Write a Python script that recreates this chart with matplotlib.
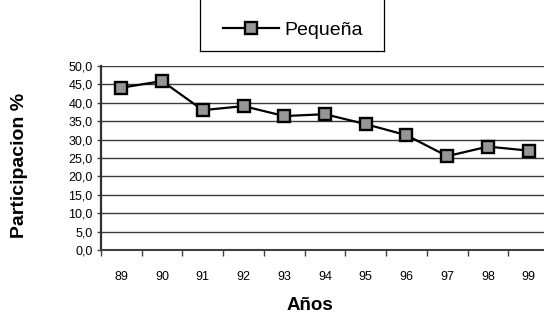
import matplotlib
matplotlib.use("Agg")
import matplotlib.pyplot as plt
from matplotlib.lines import Line2D
from matplotlib.ticker import FuncFormatter, FixedLocator

plt.rcParams['font.family'] = ['Liberation Sans', 'DejaVu Sans']

years = ['89', '90', '91', '92', '93', '94', '95', '96', '97', '98', '99']
pequena = [44.1, 45.9, 38.0, 39.1, 36.4, 36.9, 34.2, 31.2, 25.5, 28.1, 27.0]
series_name = 'Pequeña'
y_ticks = [0, 5, 10, 15, 20, 25, 30, 35, 40, 45, 50]

W, H = 544, 316
fig = plt.figure(figsize=(W / 100, H / 100), dpi=100)
ax = fig.add_axes([101 / W, 1 - 250 / H, 448 / W, 184 / H])

x = list(range(len(years)))
line, = ax.plot(x, pequena, color='black', lw=1.6, marker='s', markersize=8.5,
                markerfacecolor='#969696', markeredgecolor='black', markeredgewidth=1.7,
                label=series_name, zorder=3, clip_on=False)

ax.set_xlim(-0.5, len(years) - 0.5)
ax.set_ylim(0, 50)
ax.set_yticks(y_ticks)
ax.yaxis.set_major_formatter(FuncFormatter(lambda v, p: f"{v:.1f}".replace('.', ',')))
ax.set_xticks(x)
ax.set_xticklabels(years)
ax.xaxis.set_minor_locator(FixedLocator([i - 0.5 for i in range(len(years) + 1)]))
ax.tick_params(axis='x', which='major', length=0, pad=15, labelsize=9)
ax.tick_params(axis='x', which='minor', length=4, width=1, color='#404040', direction='out')
ax.tick_params(axis='y', length=3, width=1, color='#404040', labelsize=9, pad=3)

ax.grid(axis='y', color='#3a3a3a', lw=1.0)
ax.set_axisbelow(True)
for s in ['top', 'right']:
    ax.spines[s].set_visible(False)
ax.spines['left'].set_color('#303030')
ax.spines['left'].set_linewidth(1.6)
ax.spines['bottom'].set_color('#404040')
ax.spines['bottom'].set_linewidth(1.5)

ax.set_xlabel('Años', fontsize=13.5, fontweight='bold')
ax.xaxis.set_label_coords((310 - 101) / 448, -(306 - 250) / 184)
ax.xaxis.label.set_va('center')
ax.set_ylabel('Participacion %', fontsize=14, fontweight='bold')
ax.yaxis.set_label_coords(-(101 - 20) / 448, (250 - 165) / 184)
ax.yaxis.label.set_va('center')

# legend box (top edge runs off the figure)
for (x0, y0, x1, y1) in [(200, -5, 200, 51), (200, 51, 384, 51), (384, 51, 384, -5)]:
    fig.add_artist(Line2D([x0 / W, x1 / W], [1 - y0 / H, 1 - y1 / H],
                          transform=fig.transFigure, color='black', lw=0.9))

leg = fig.legend(handles=[line], loc='center', bbox_to_anchor=(293 / W, 1 - 30 / H),
                 frameon=False, fontsize=14, handlelength=2.85,
                 borderpad=0.0, handletextpad=0.3)

fig.savefig('out.png', dpi=100)
